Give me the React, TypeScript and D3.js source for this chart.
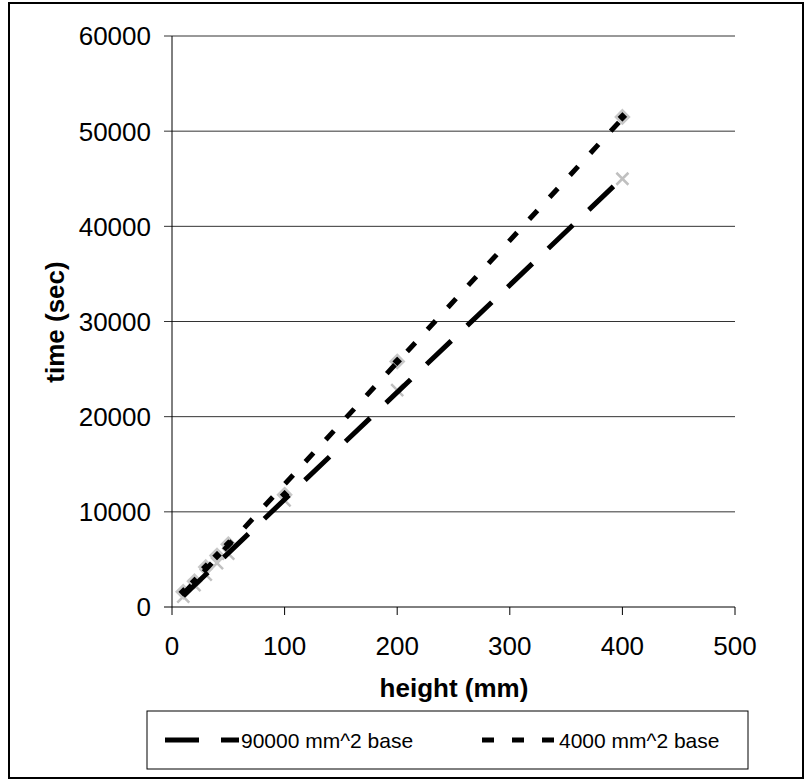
import React from 'react';
import * as d3 from 'd3';

const heights = [10, 20, 30, 40, 50, 100, 200, 400];
const base90000 = [1100, 2300, 3400, 4600, 5600, 11200, 22800, 45000];
const base4000 = [1600, 2700, 4200, 5400, 6600, 11800, 25800, 51500];
const xTicks = [0, 100, 200, 300, 400, 500];
const yTicks = [0, 10000, 20000, 30000, 40000, 50000, 60000];
const seriesNames = ['90000 mm^2 base', '4000 mm^2 base'];

const W = 806;
const H = 782;
const FONT = 'Arial, "Liberation Sans", sans-serif';

// least squares fit, used for the trendlines like the spreadsheet does
function fit(xs: number[], ys: number[]) {
  const mx = d3.mean(xs)!;
  const my = d3.mean(ys)!;
  const num = d3.sum(xs, (x, i) => (x - mx) * (ys[i] - my));
  const den = d3.sum(xs, (x) => (x - mx) * (x - mx));
  const slope = num / den;
  return { slope, intercept: my - slope * mx };
}

const App: React.FC = () => {
  const margin = { left: 172, right: 71, top: 36, bottom: 175 };
  const x = d3.scaleLinear().domain([0, 500]).range([margin.left, W - margin.right]);
  const y = d3.scaleLinear().domain([0, 60000]).range([H - margin.bottom, margin.top]);

  const trend = (ys: number[]) => {
    const { slope, intercept } = fit(heights, ys);
    const x0 = d3.min(heights)!;
    const x1 = d3.max(heights)!;
    return d3.line<[number, number]>().x((d) => x(d[0])).y((d) => y(d[1]))([
      [x0, intercept + slope * x0],
      [x1, intercept + slope * x1],
    ]) as string;
  };

  const pts90 = heights.map((h, i) => [h, base90000[i]] as [number, number]);
  const pts4 = heights.map((h, i) => [h, base4000[i]] as [number, number]);

  const longDash = '34,22';
  const shortDash = '12,18';

  return (
    <svg width={W} height={H} style={{ position: 'absolute', left: 0, top: 0, background: '#fff' }} fontFamily={FONT}>
      <rect x={9} y={3} width={794} height={775} fill="#fff" stroke="#000" strokeWidth={2} />

      {/* gridlines */}
      {yTicks.map((t) => (
        <line key={'g' + t} x1={x(0) - 8} x2={x(500)} y1={y(t)} y2={y(t)} stroke={t === 0 ? '#000' : '#333'} strokeWidth={1} />
      ))}
      <line x1={x(0)} x2={x(0)} y1={y(60000)} y2={y(0)} stroke="#000" strokeWidth={1} />
      {xTicks.map((t) => (
        <line key={'xt' + t} x1={x(t)} x2={x(t)} y1={y(0)} y2={y(0) + 8} stroke="#000" strokeWidth={1} />
      ))}

      {/* tick labels */}
      {yTicks.map((t) => (
        <text key={'yl' + t} x={151} y={y(t)} dy="0.36em" textAnchor="end" fontSize={26}>
          {t}
        </text>
      ))}
      {xTicks.map((t) => (
        <text key={'xl' + t} x={x(t)} y={655} textAnchor="middle" fontSize={26}>
          {t}
        </text>
      ))}

      <text x={454} y={697} textAnchor="middle" fontSize={26} fontWeight="bold">height (mm)</text>
      <text transform={`translate(64,322) rotate(-90)`} textAnchor="middle" fontSize={26} fontWeight="bold">time (sec)</text>

      {/* markers */}
      {pts90.map(([h, v], i) => {
        const cx = x(h);
        const cy = y(v);
        const s = 6;
        return (
          <path key={'x' + i} d={`M${cx - s},${cy - s}L${cx + s},${cy + s}M${cx - s},${cy + s}L${cx + s},${cy - s}`} stroke="#c0c0c0" strokeWidth={2.5} fill="none" />
        );
      })}
      {pts4.map(([h, v], i) => {
        const cx = x(h);
        const cy = y(v);
        const s = 6.5;
        return (
          <path key={'d' + i} d={`M${cx},${cy - s}L${cx + s},${cy}L${cx},${cy + s}L${cx - s},${cy}Z`} fill="#000" stroke="#c8c8c8" strokeWidth={2.5} />
        );
      })}

      {/* trendlines */}
      <path d={trend(base90000)} stroke="#000" strokeWidth={5} strokeDasharray={longDash} fill="none" />
      <path d={trend(base4000)} stroke="#000" strokeWidth={5} strokeDasharray={shortDash} fill="none" />

      {/* legend */}
      <rect x={147} y={711} width={601} height={58} fill="#fff" stroke="#000" strokeWidth={1} />
      <line x1={165} x2={239} y1={740} y2={740} stroke="#000" strokeWidth={5} strokeDasharray={longDash} />
      <text x={241} y={740} dy="0.36em" fontSize={21}>{seriesNames[0]}</text>
      <line x1={482} x2={554} y1={740} y2={740} stroke="#000" strokeWidth={5} strokeDasharray={shortDash} />
      <text x={559} y={740} dy="0.36em" fontSize={21}>{seriesNames[1]}</text>
    </svg>
  );
};

export default App;
